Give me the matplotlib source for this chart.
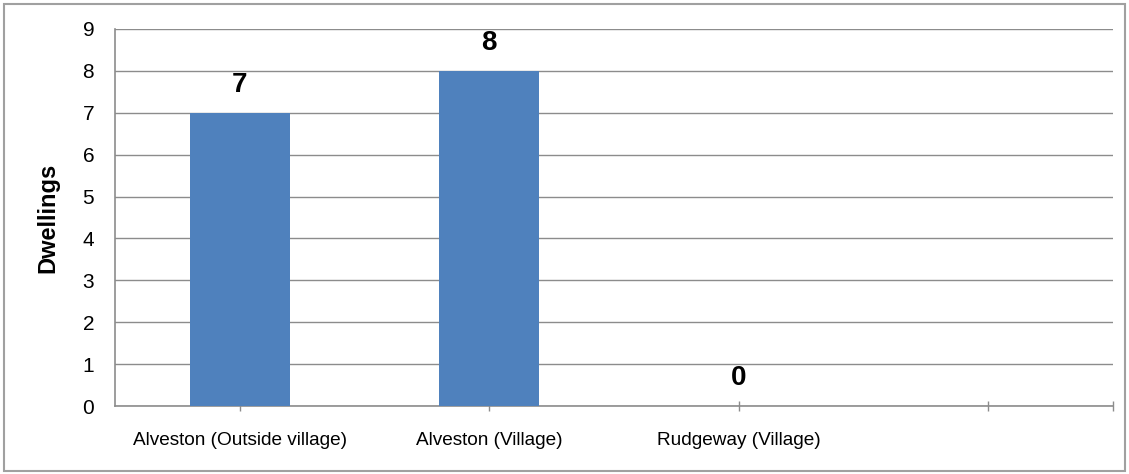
import matplotlib.pyplot as plt
from matplotlib.patches import Rectangle

plt.rcParams['font.family'] = ['Liberation Sans', 'DejaVu Sans']

# Dwellings per area
categories = ['Alveston (Outside village)', 'Alveston (Village)', 'Rudgeway (Village)', '']
dwellings = [7, 8, 0, None]
y_ticks = list(range(0, 10))

fig = plt.figure(figsize=(11.29, 4.74), dpi=100)
ax = fig.add_axes([115/1129, 1 - 406/474, (1113 - 115)/1129, (406 - 29)/474])

grey = '#8c8c8c'
xs = [i for i, v in enumerate(dwellings) if v is not None]
vals = [v for v in dwellings if v is not None]
bars = ax.bar(xs, vals, width=0.4, color='#4f81bd', zorder=3)
for x, v in zip(xs, vals):
    ax.annotate(str(v), (x, v), xytext=(0, 11), textcoords='offset points',
                ha='center', va='bottom', fontsize=20, fontweight='bold')

ax.set_xlim(-0.5, 3.5)
ax.set_ylim(0, 9)
ax.set_yticks(y_ticks)
ax.tick_params(axis='y', length=0, pad=15, labelsize=15)
ax.set_xticks(range(len(categories)))
ax.set_xticklabels(categories)
ax.set_xticks([3.5], minor=True)
ax.tick_params(axis='x', which='both', direction='inout', length=7, width=1, color=grey)
ax.tick_params(axis='x', which='major', pad=15.5, labelsize=13.7)

ax.yaxis.grid(True, color=grey, linewidth=1, zorder=0)
for side in ['top', 'right']:
    ax.spines[side].set_visible(False)
for side in ['left', 'bottom']:
    ax.spines[side].set_color(grey)
    ax.spines[side].set_linewidth(1.2)

ax.set_ylabel('Dwellings', fontsize=17, fontweight='bold')
ax.yaxis.set_label_coords(-0.056, 0.5)

# outer chart border
fig.patches.append(Rectangle((4/1129, 3/474), 1121/1129, 467/474, transform=fig.transFigure,
                             fill=False, edgecolor='#a0a0a0', linewidth=1.5))

fig.savefig('out.png', dpi=100)
